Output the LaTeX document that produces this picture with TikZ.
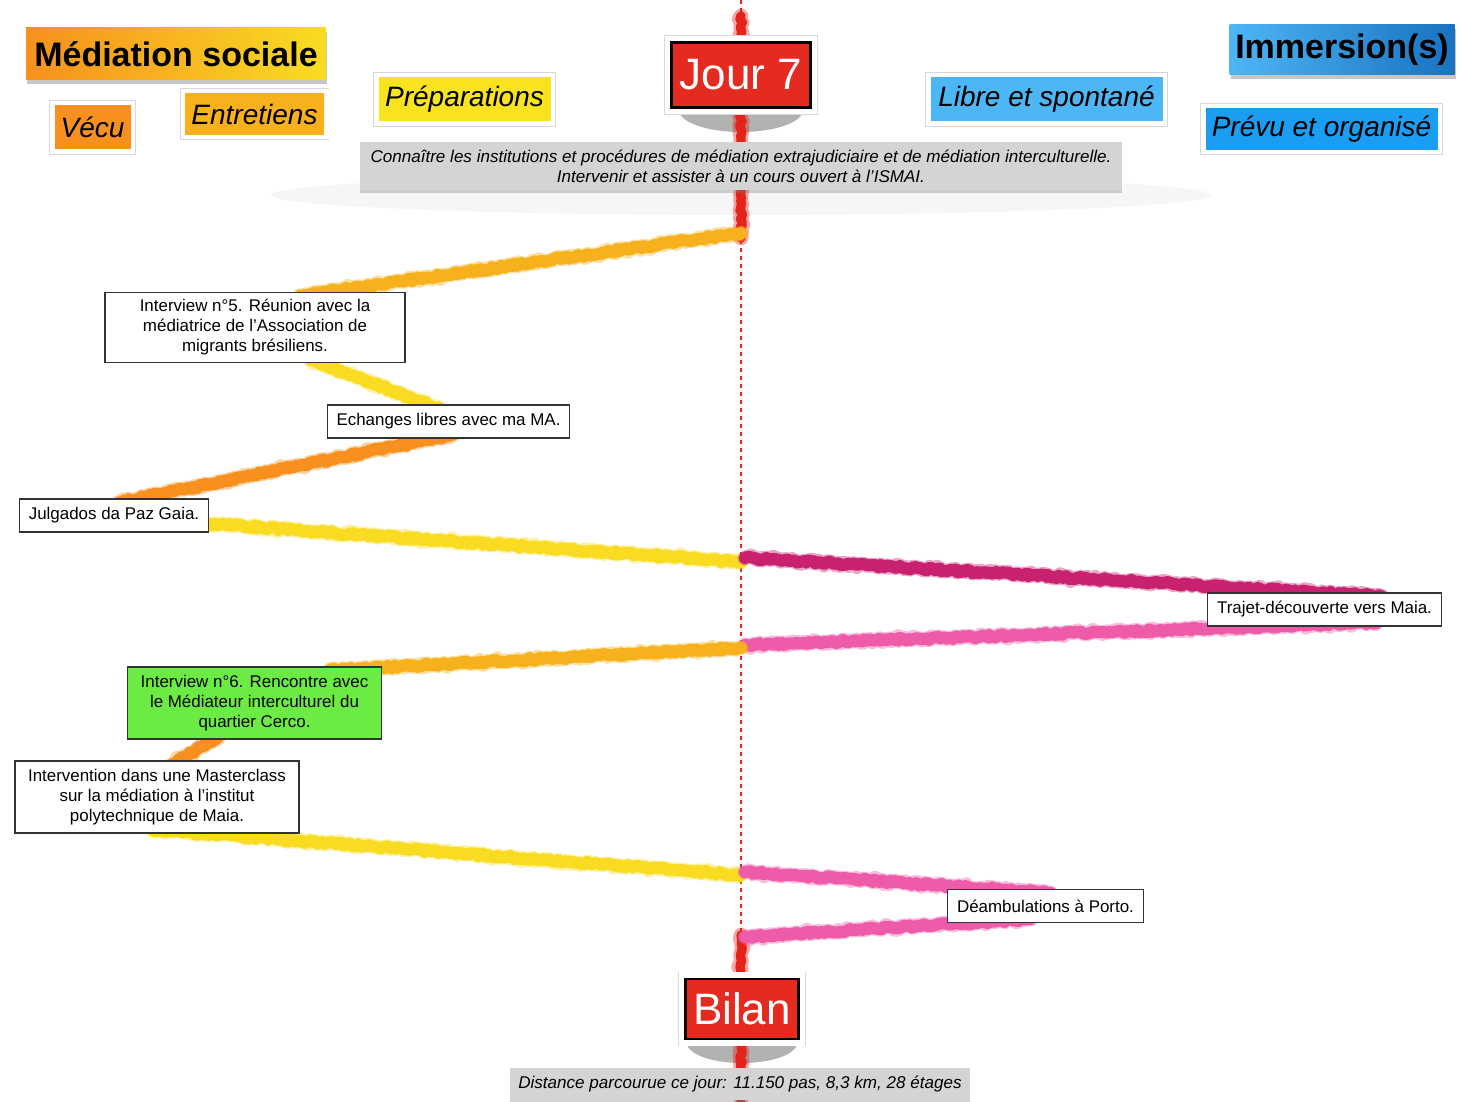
\documentclass[tikz,border=0pt]{standalone}
\usepackage{fontspec}
\setmainfont{Liberation Sans}
\usetikzlibrary{calc,shadows,decorations.pathmorphing}

\definecolor{rougeaxe}{HTML}{E3241B}
\definecolor{rougejour}{HTML}{E52A1F}
\definecolor{orangevif}{HTML}{F7901E}
\definecolor{orangejaune}{HTML}{F6B11C}
\definecolor{jaune}{HTML}{F9DC22}
\definecolor{jauneprep}{HTML}{F9E21E}
\definecolor{magenta}{HTML}{C7216F}
\definecolor{rose}{HTML}{EE5BA8}
\definecolor{bleuclair}{HTML}{4DB6F5}
\definecolor{bleuvif}{HTML}{1B9EF2}
\definecolor{bleufonce}{HTML}{1872C0}
\definecolor{vertvif}{HTML}{6CEB45}
\definecolor{grisbande}{HTML}{D4D4D4}

\pgfdeclarelayer{fond}
\pgfsetlayers{fond,main}

\tikzset{
  boite/.style={draw=black!80, line width=0.9pt, fill=white, align=center, inner xsep=7pt, inner ysep=2pt, minimum height=24.75pt, font=\fontsize{12.7}{15}\selectfont},
  etiq/.style={fill=#1, draw=white, line width=3.5pt, preaction={draw=gray!30, line width=4.6pt}, inner sep=0pt, font=\itshape\fontsize{21}{24}\selectfont},
  titre/.style={inner sep=0pt, font=\bfseries\fontsize{25.5}{30}\selectfont, drop shadow={opacity=0.45, shadow xshift=1pt, shadow yshift=-3pt}},
  panneau/.style={fill=rougejour, draw=black, line width=2pt, preaction={draw=gray!30, line width=11pt}, preaction={draw=white, line width=10pt}, text=white, inner sep=0pt, font=\fontsize{33}{36}\selectfont},
  bande/.style={fill=grisbande, inner sep=0pt, align=center, font=\itshape\fontsize{12.8}{15}\selectfont, drop shadow={opacity=0.35, shadow xshift=0pt, shadow yshift=-2.5pt}},
  crayon/.style={draw=#1, line width=9pt, line cap=round, line join=round, decorate, decoration={random steps, segment length=2pt, amplitude=1.1pt},
    preaction={draw=#1, draw opacity=0.4, line width=11pt, line cap=round, line join=round, decorate, decoration={random steps, segment length=1.5pt, amplitude=1.5pt}}},
}

\begin{document}
\begin{tikzpicture}[x=0.75pt,y=0.75pt,yscale=-1,xscale=1]
\useasboundingbox (0,0) rectangle (1465,1102);

% Titles
\node (med) at (176,54) [titre, left color=orangevif, right color=jaune, minimum width=225pt, minimum height=39pt] {Médiation sociale};
\node (imm) at (1342,50) [titre, left color=bleuclair, right color=bleufonce, minimum width=168.75pt, minimum height=37.5pt] {Immersion(s)};

% Legend
\node (vecu) at (92.5,127.5) [etiq=orangevif, minimum width=60.5pt, minimum height=36.5pt] {Vécu};
\node (entr) at (254.5,114) [etiq=orangejaune, minimum width=107.5pt, minimum height=34.5pt] {Entretiens};
\node (prep) at (464.5,99.5) [etiq=jauneprep, minimum width=132.5pt, minimum height=36.5pt] {Préparations};
\node (libre) at (1046.5,99.5) [etiq=bleuclair, minimum width=177.5pt, minimum height=36.5pt] {Libre et spontané};
\node (prevu) at (1321.5,129) [etiq=bleuvif, minimum width=177.5pt, minimum height=34.5pt] {Prévu et organisé};

% Day signs
\node (jour) at (741,75) [panneau, minimum width=104.5pt, minimum height=49pt] {Jour 7};
\node (bilan) at (742,1009) [panneau, minimum width=85pt, minimum height=45pt] {Bilan};

% Objectives and summary
\node (obj) at (741,166) [bande, minimum width=571.5pt, minimum height=36pt] {Connaître les institutions et procédures de médiation extrajudiciaire et de médiation interculturelle.\\Intervenir et assister à un cours ouvert à l'ISMAI.};
\node (dist) at (740,1084) [bande, minimum width=345pt, minimum height=24pt] {Distance parcourue ce jour: 11.150 pas, 8,3 km, 28 étages};

% Text Nodes
\node (i5) at (255,327.5) [boite, minimum width=225pt, minimum height=53pt] {Interview n°5. Réunion avec la\\médiatrice de l'Association de\\migrants brésiliens.};
\node (ech) at (448.5,421.5) [boite] {Echanges libres avec ma MA.};
\node (jul) at (114,515.5) [boite] {Julgados da Paz Gaia.};
\node (traj) at (1324.5,609.5) [boite] {Trajet-découverte vers Maia.};
\node (i6) at (254.5,703) [boite, fill=vertvif, minimum width=191pt, minimum height=54pt] {Interview n°6. Rencontre avec\\le Médiateur interculturel du\\quartier Cerco.};
\node (interv) at (157,797) [boite, minimum width=213pt, minimum height=54pt] {Intervention dans une Masterclass\\sur la médiation à l'institut\\polytechnique de Maia.};
\node (deamb) at (1045.5,906) [boite] {Déambulations à Porto.};

% Axis points
\coordinate (a1) at (741,233);
\coordinate (a2) at (741,562);
\coordinate (a3) at (745,558);
\coordinate (a4) at (745,645);
\coordinate (a5) at (741,648);
\coordinate (a6) at (741,875);
\coordinate (a7) at (745,872);
\coordinate (a8) at (745,937);

\begin{pgfonlayer}{fond}
%Shape: Ellipse (shadows)
\fill [gray!7] (741,195) ellipse [x radius=470, y radius=20];
\fill [gray!60] (741,110) ellipse [x radius=62, y radius=22];
\fill [gray!60] (742,1043) ellipse [x radius=55, y radius=20];
%Straight Lines (axis)
\draw [rougeaxe, line width=1.6pt, dash pattern=on 3pt off 3pt] (741,0) -- (741,1102);
\draw [crayon=rougeaxe, line width=7pt] (741,16) -- (741,36);
\draw [crayon=rougeaxe, line width=7pt] (741,114) -- (741,142);
\draw [crayon=rougeaxe, line width=7pt] (741,190) -- (741,238);
\draw [crayon=rougeaxe, line width=7pt] (741,935) -- (741,970);
\draw [crayon=rougeaxe, line width=7pt] (741,1047) -- (741,1100);
%Crayon strokes
\draw [crayon=orangejaune] (a1) -- ($(i5.north)+(45,4)$);
\draw [crayon=jaune] ($(i5.south)+(55,-4)$) -- ($(ech.north)+(-10,4)$);
\draw [crayon=orangevif] ($(ech.south)+(5,-4)$) -- ($(jul.north)+(5,4)$);
\draw [crayon=jaune] ($(jul.east)+(-5,8)$) -- (a2);
\draw [crayon=magenta] (a3) -- ($(traj.north east)+(-60,4)$);
\draw [crayon=rose] ($(traj.south east)+(-65,-4)$) -- (a4);
\draw [crayon=orangejaune] (a5) -- ($(i6.north)+(75,4)$);
\draw [crayon=orangevif] ($(i6.south)+(-35,-4)$) -- ($(interv.north)+(15,4)$);
\draw [crayon=jaune] ($(interv.south)+(-5,-4)$) -- (a6);
\draw [crayon=rose] (a7) -- ($(deamb.north)+(5,4)$);
\draw [crayon=rose] ($(deamb.south)+(-15,-4)$) -- (a8);
\end{pgfonlayer}
\end{tikzpicture}
\end{document}
